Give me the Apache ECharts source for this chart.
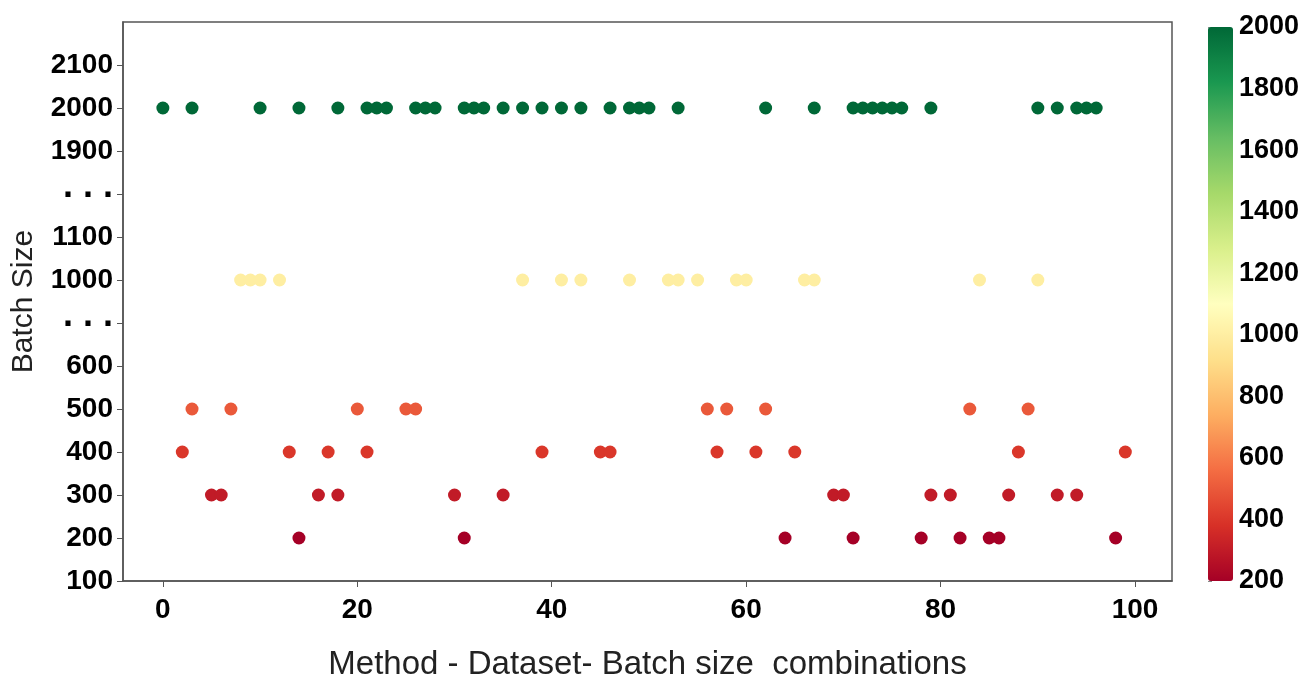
<!DOCTYPE html>
<html>
<head>
<meta charset="utf-8">
<script src="https://cdn.jsdelivr.net/npm/echarts@6/dist/echarts.min.js"></script>
<style>
  html, body { margin: 0; padding: 0; background: #fff; }
  #chart { width: 1311px; height: 678px; }
</style>
</head>
<body>
<div id="chart"></div>
<script>
// x positions of the points, one list per batch size
const xAt200 = [14, 31, 64, 71, 78, 82, 85, 86, 98];
const xAt300 = [5, 6, 16, 18, 30, 35, 69, 70, 79, 81, 87, 92, 94];
const xAt400 = [2, 13, 17, 21, 39, 45, 46, 57, 61, 65, 88, 99];
const xAt500 = [3, 7, 20, 25, 26, 56, 58, 62, 83, 89];
const xAt1000 = [8, 9, 10, 12, 37, 41, 43, 48, 52, 53, 55, 59, 60, 66, 67, 84, 90];
const xAt2000 = [0, 3, 10, 14, 18, 21, 22, 23, 26, 27, 28, 31, 32, 33, 35, 37, 39, 41, 43,
  46, 48, 49, 50, 53, 62, 67, 71, 72, 73, 74, 75, 76, 79, 90, 92, 94, 95, 96];

// broken y axis: each label sits on one evenly spaced slot
const yTickLabels = ['100', '200', '300', '400', '500', '600', '...', '1000', '1100', '...', '1900', '2000', '2100'];
const xTicks = [0, 20, 40, 60, 80, 100];
const colorTicks = [200, 400, 600, 800, 1000, 1200, 1400, 1600, 1800, 2000];

// RdYlGn
const rdYlGn = ['#a50026', '#d73027', '#f46d43', '#fdae61', '#fee08b', '#ffffbf',
  '#d9ef8b', '#a6d96a', '#66bd63', '#1a9850', '#006837'];

function slot(size) {
  return yTickLabels.indexOf(String(size));
}

const groups = [[200, xAt200], [300, xAt300], [400, xAt400], [500, xAt500], [1000, xAt1000], [2000, xAt2000]];
const points = [];
groups.forEach(function (g) {
  g[1].forEach(function (x) { points.push([x, slot(g[0]), g[0]]); });
});

const tickFont = "'Liberation Sans', Arial, sans-serif";
const ySlots = yTickLabels.map(function (l, i) { return i; });

const option = {
  animation: false,
  grid: [
    { left: 123, right: 139, top: 22, bottom: 97, show: true, borderColor: '#555', borderWidth: 1.5, outerBoundsMode: 'none' },
    { left: 1208, width: 25, top: 27, height: 554, outerBoundsMode: 'none' }
  ],
  xAxis: [
    {
      type: 'value',
      min: -4.1,
      max: 103.8,
      splitLine: { show: false },
      axisLine: { onZero: false, lineStyle: { color: '#555', width: 1.5 } },
      axisTick: { show: true, length: 6, customValues: xTicks, lineStyle: { color: '#555' } },
      axisLabel: {
        customValues: xTicks,
        margin: 15,
        color: '#000',
        fontSize: 28,
        fontWeight: 'bold',
        fontFamily: tickFont
      },
      name: 'Method - Dataset- Batch size  combinations',
      nameLocation: 'middle',
      nameGap: 67,
      nameTextStyle: { fontSize: 33, color: '#222', fontFamily: tickFont }
    },
    { gridIndex: 1, type: 'value', show: false }
  ],
  yAxis: [
    {
      type: 'value',
      min: 0,
      max: 13,
      interval: 1,
      splitLine: { show: false },
      axisLine: { show: true, onZero: false, lineStyle: { color: '#555', width: 1.5 } },
      axisTick: { show: true, length: 6, customValues: ySlots, lineStyle: { color: '#555' } },
      axisLabel: {
        customValues: ySlots,
        margin: 10,
        color: '#000',
        fontSize: 28,
        fontWeight: 'bold',
        fontFamily: tickFont,
        formatter: function (v) {
          const l = yTickLabels[Math.round(v)] || '';
          return l === '...' ? '{d|. . .}' : l;
        },
        rich: {
          d: { fontSize: 36, fontWeight: 'bold', fontFamily: tickFont, color: '#000', padding: [0, 0, 14, 0] }
        }
      },
      name: 'Batch Size',
      nameLocation: 'middle',
      nameGap: 84,
      nameTextStyle: { fontSize: 30, color: '#222', fontFamily: tickFont }
    },
    {
      gridIndex: 1,
      type: 'value',
      position: 'right',
      min: 200,
      max: 2000,
      interval: 200,
      splitLine: { show: false },
      axisLine: { show: false },
      axisTick: { show: true, length: 4, lineStyle: { color: '#888' } },
      axisLabel: {
        margin: 6,
        color: '#000',
        fontSize: 27,
        fontWeight: 'bold',
        fontFamily: tickFont,
        formatter: function (v) { return String(v); }
      }
    }
  ],
  visualMap: {
    type: 'continuous',
    min: 200,
    max: 2000,
    dimension: 2,
    seriesIndex: 0,
    calculable: false,
    left: 1208,
    top: 27,
    padding: 0,
    itemWidth: 25,
    itemHeight: 554,
    inRange: { color: rdYlGn }
  },
  series: [
    {
      type: 'scatter',
      data: points,
      symbolSize: 13,
      itemStyle: { opacity: 1 }
    }
  ]
};

const chart = echarts.init(document.getElementById('chart'));
chart.setOption(option);
</script>
</body>
</html>
